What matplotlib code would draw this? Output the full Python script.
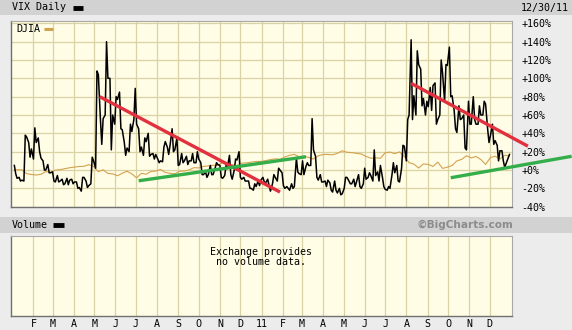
import datetime as dt
import matplotlib
matplotlib.use("Agg")
import matplotlib.pyplot as plt
import matplotlib.dates as mdates
from matplotlib.patches import Rectangle
from matplotlib.lines import Line2D

# ---------------- data ----------------
first_monday = dt.date(2010, 1, 4)
# VIX % change, three readings per week (early, mid, close)
vix_a = [5, -8, -12, 30, 12, 35, 10, 6, -2, -6, -10, -9, -10, -13, -23, -12, -15, 2, 56, 60,
         100, 50, 85, 30, 20, 55, 45, 16, 40, 18, 12, 9, 25, 45, 35, 18, 15, 10, 8, 8,
         -2, 5, 2, 5, -6, 16, 0, 20, -8, -12, -22, -12,
         -8, -10, -15, -12, -3, -18, -15, 13, -5, 4, 5, 15, -5, -12, -14, -12, -20, -20,
         -12, -10, -5, -15, -8, -12, -2, -8, -22, -5, 5, 2, 10, 142, 60, 110, 60, 90, 95, 60,
         75, 134, 65, 70, 60, 75, 80, 50, 60, 45, 50, 27, 21, 9]
vix_b = [-4, -12, 38, 14, 46, 20, 0, -3, -12, -13, -16, -16, -15, -20, -8, -19, 14, 108, 28, 140,
         22, 80, 45, 16, 50, 89, 20, 35, 15, 12, 8, 25, 17, 20, 5, 8, 6, 18, 20, -5,
         -8, -5, 8, -8, 5, -5, 12, -8, -12, -20, -15, -17,
         -13, -17, -5, 2, -17, -20, -20, -2, 10, 8, 56, -8, -13, -18, -22, -22, -27, -8,
         -15, -18, -18, 2, -3, 22, -12, -18, -18, 8, -12, 27, 55, 55, 130, 70, 75, 65, 50, 120,
         115, 80, 45, 55, 24, 50, 55, 70, 75, 30, 28, 10, 10, 13]
vix_c = [-9, -11, 36, 23, 30, 13, 0, -3, -13, -12, -15, -11, -13, -19, -8, -17, 10, 104, 56, 100,
         60, 77, 44, 24, 42, 50, 25, 31, 17, 17, 10, 31, 27, 22, 6, 10, 10, 8, 12, -5,
         -5, -5, 6, -9, 3, -10, 11, -10, -12, -20, -18, -11,
         -14, -23, -8, 0, -20, -22, -18, -4, -5, 5, 22, -11, -13, -11, -24, -25, -26, -8,
         -15, -13, -20, -10, -6, -6, 5, -21, -20, -3, -13, 26, 60, 81, 115, 78, 69, 92, 55, 106,
         114, 81, 41, 56, 22, 50, 50, 60, 72, 37, 32, 21, 3, 17]
# DJIA % change, weekly close (first value = base day)
djia = [0.0,
        0.3, 0.2, -3.9, -4.9, -5.4, -4.6, -1.7, -2.4, -0.2, 0.4, 1.5, 2.5, 3.2, 3.9, 4.1, 5.9,
        4.0, -1.9, 0.3, -3.7, -4.2, -6.2, -3.5, -1.3, -4.2, -8.5, -3.6, -4.6, -1.5, -1.1, 0.7,
        -2.7, -3.5, -4.1, -1.3, -1.1, 0.2, 2.6, 2.3, 4.0, 4.5, 5.2, 5.0, 8.1, 5.8, 5.9, 4.8,
        7.5, 7.8, 8.6, 9.3, 9.4,
        10.3, 11.4, 12.2, 11.7, 14.2, 16.0, 17.1, 14.6, 15.0, 13.8, 12.0, 15.5, 16.9, 17.0,
        16.6, 18.2, 21.0, 19.4, 19.0, 18.2, 17.5, 14.8, 12.9, 13.4, 12.8, 18.9, 19.6, 17.9,
        19.8, 14.7, 8.1, 6.5, 2.2, 6.6, 6.2, 3.9, 8.7, 1.8, 3.1, 4.9, 10.0, 11.6, 15.6, 13.2,
        14.8, 11.5, 6.1, 13.6, 15.1, 12.1, 16.2, 15.4]
# trend lines: (start date, start %, end date, end %)
red_trends = [(dt.date(2010, 5, 9), 80, dt.date(2011, 1, 28), -24),
              (dt.date(2011, 8, 8), 94.5, dt.date(2012, 1, 26), 26)]
green_trends = [(dt.date(2010, 7, 5), -11.7, dt.date(2011, 3, 7), 14.5),
                (dt.date(2011, 10, 5), -8.4, dt.date(2012, 3, 30), 15)]
y_ticks = [-40, -20, 0, 20, 40, 60, 80, 100, 120, 140, 160]
month_letters = ["J", "F", "M", "A", "M", "J", "J", "A", "S", "O", "N", "D"]

# ---------------- build series ----------------
vix_dates, vix_vals = [], []
for i, (a, b, c) in enumerate(zip(vix_a, vix_b, vix_c)):
    mon = first_monday + dt.timedelta(weeks=i)
    vix_dates += [mon, mon + dt.timedelta(days=2), mon + dt.timedelta(days=4)]
    vix_vals += [a, b, c]
djia_dates = [first_monday] + [first_monday + dt.timedelta(weeks=i, days=4) for i in range(len(djia) - 1)]

# ---------------- figure ----------------
W, H = 572, 330
fig = plt.figure(figsize=(W / 100, H / 100), dpi=100)
fig.patch.set_facecolor("#ececec")

def rect(l, t, r, b):
    return [l / W, 1 - b / H, (r - l) / W, (b - t) / H]

MONO = "DejaVu Sans Mono"
FS = 7.2
BG = "#fffde6"
GRID = "#d9d2a4"

# header bars
fig.patches.append(Rectangle((0, 1 - 15 / H), 1, 15 / H, transform=fig.transFigure,
                             facecolor="#d2d2d2", edgecolor="none", zorder=0))
fig.patches.append(Rectangle((0, 1 - 233 / H), 1, 16 / H, transform=fig.transFigure,
                             facecolor="#d2d2d2", edgecolor="none", zorder=0))
fig.text(12 / W, 1 - 7.5 / H, "VIX Daily", family=MONO, fontsize=FS, va="center", ha="left")
fig.lines.append(Line2D([73 / W, 83 / W], [1 - 7.5 / H] * 2, transform=fig.transFigure,
                        color="black", lw=3.5, solid_capstyle="butt"))
fig.text(569 / W, 1 - 7.5 / H, "12/30/11", family=MONO, fontsize=FS, va="center", ha="right")
fig.text(12 / W, 1 - 225 / H, "Volume", family=MONO, fontsize=FS, va="center", ha="left")
fig.lines.append(Line2D([53 / W, 64 / W], [1 - 225 / H] * 2, transform=fig.transFigure,
                        color="black", lw=3.5, solid_capstyle="butt"))
fig.text(513 / W, 1 - 225 / H, "\u00a9BigCharts.com", family="DejaVu Sans", fontweight="bold",
         fontsize=7.6, color="#8c8c8c", va="center", ha="right")

xmin = mdates.date2num(dt.date(2010, 1, 1)) - 1.9
xmax = mdates.date2num(dt.date(2010, 1, 1)) + 731.7
month_ticks = [dt.date(2010 + (m // 12), m % 12 + 1, 1) for m in range(1, 24)]
month_labels = [("11" if d.month == 1 else month_letters[d.month - 1]) for d in month_ticks]

# main axes
ax = fig.add_axes(rect(11, 21, 512, 207))
ax.set_facecolor(BG)
ax.plot(djia_dates, djia, color="#d4a24e", lw=0.8, zorder=2)
ax.plot(vix_dates, vix_vals, color="black", lw=1.1, zorder=3)
for (d0, v0, d1, v1) in red_trends:
    ax.plot([d0, d1], [v0, v1], color="#e2303e", lw=2.4, solid_capstyle="butt", zorder=4, clip_on=False)
for (d0, v0, d1, v1) in green_trends:
    ax.plot([d0, d1], [v0, v1], color="#33ae4a", lw=2.4, solid_capstyle="butt", zorder=4, clip_on=False)
ax.set_xlim(xmin, xmax)
ax.set_ylim(-40.3, 162.5)
ax.set_xticks([mdates.date2num(d) for d in month_ticks])
ax.set_xticklabels([])
ax.set_yticks(y_ticks)
ax.set_yticklabels([("+%d%%" % v) if v >= 0 else ("%d%%" % v) for v in y_ticks],
                   family=MONO, fontsize=FS)
ax.yaxis.tick_right()
ax.tick_params(length=0, pad=7)
ax.tick_params(axis="x", length=0)
ax.grid(True, color=GRID, lw=0.9)
ax.set_axisbelow(True)
for s in ["top", "right"]:
    ax.spines[s].set_color("#a8a8a8")
    ax.spines[s].set_linewidth(0.8)
for s in ["left", "bottom"]:
    ax.spines[s].set_color("#707070")
    ax.spines[s].set_linewidth(1.0)
ax.text(5 / 501, 1 - 8 / 186, "DJIA", transform=ax.transAxes, family=MONO, fontsize=FS,
        va="center", ha="left", zorder=5)
ax.plot([33 / 501, 42 / 501], [1 - 8 / 186] * 2, transform=ax.transAxes, color="#d4a24e",
        lw=2.2, solid_capstyle="butt", zorder=5)

# volume axes
vx = fig.add_axes(rect(11, 236, 512, 316))
vx.set_facecolor(BG)
vx.set_xlim(xmin, xmax)
vx.set_ylim(0, 1)
vx.set_xticks([mdates.date2num(d) for d in month_ticks])
vx.set_xticklabels(month_labels, family=MONO, fontsize=FS)
vx.set_yticks([])
vx.tick_params(axis="x", length=0, pad=2)
vx.grid(True, axis="x", color=GRID, lw=0.9)
for s in ["top", "right"]:
    vx.spines[s].set_color("#a8a8a8")
    vx.spines[s].set_linewidth(0.8)
for s in ["left", "bottom"]:
    vx.spines[s].set_color("#707070")
    vx.spines[s].set_linewidth(1.0)
vx.text(0.5, 1 - 21 / 80, "Exchange provides\nno volume data.", transform=vx.transAxes,
        family=MONO, fontsize=FS, ha="center", va="center", linespacing=1.1)

fig.savefig("out.png", dpi=100, facecolor=fig.get_facecolor())
